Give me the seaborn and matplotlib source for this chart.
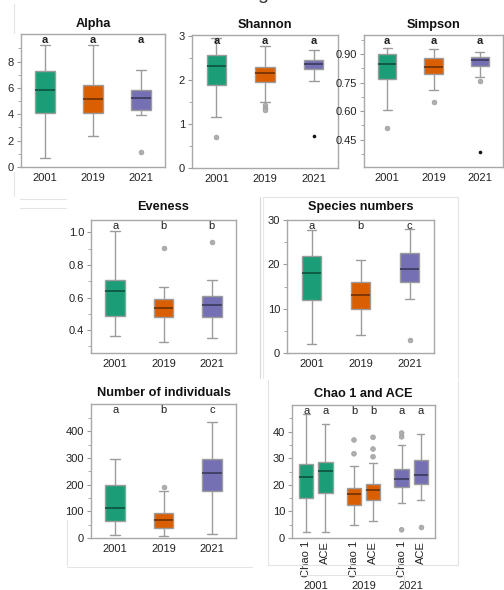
import numpy as np
import pandas as pd
import matplotlib
matplotlib.use("Agg")
import matplotlib.pyplot as plt
import matplotlib.colors as mcolors
import matplotlib.transforms as mtransforms
from matplotlib.lines import Line2D
from matplotlib.ticker import FixedLocator, FormatStrFormatter
import seaborn as sns

sns.set_style("white")
plt.rcParams["font.family"] = ["Liberation Sans", "DejaVu Sans"]

# ---------------- data ----------------
years = ["2001", "2019", "2021"]
colors = ["#1b9e77", "#d95f02", "#7570b3"]

# five-number summaries per year: [low whisker, Q1, median, Q3, high whisker]
alpha_stats = [[0.66, 4.10, 5.87, 7.32, 9.24],
               [2.35, 4.10, 5.19, 6.20, 9.24],
               [3.92, 4.30, 5.24, 5.87, 7.39]]
alpha_out = [[], [], [1.11]]
alpha_dark = [[], [], []]
alpha_letters = ["a", "a", "a"]

shannon_stats = [[1.15, 1.88, 2.31, 2.57, 2.95],
                 [1.50, 1.95, 2.15, 2.30, 2.78],
                 [1.97, 2.25, 2.37, 2.45, 2.68]]
shannon_out = [[0.71], [1.42, 1.37, 1.31], []]
shannon_dark = [[], [], [0.72]]
shannon_letters = ["a", "a", "a"]

simpson_stats = [[0.605, 0.767, 0.846, 0.898, 0.933],
                 [0.710, 0.795, 0.834, 0.877, 0.928],
                 [0.780, 0.839, 0.867, 0.886, 0.912]]
simpson_out = [[0.511], [0.649], [0.759]]
simpson_dark = [[], [], [0.387]]
simpson_letters = ["a", "a", "a"]

eveness_stats = [[0.367, 0.486, 0.638, 0.707, 1.009],
                 [0.328, 0.478, 0.537, 0.591, 0.666],
                 [0.349, 0.482, 0.552, 0.609, 0.705]]
eveness_out = [[], [0.902], [0.939]]
eveness_dark = [[], [], []]
eveness_letters = ["a", "b", "b"]

species_stats = [[2.0, 12.0, 18.0, 21.9, 27.8],
                 [4.0, 10.0, 13.0, 16.0, 20.9],
                 [12.1, 16.0, 19.0, 22.5, 28.0]]
species_out = [[], [], [2.9]]
species_dark = [[], [], []]
species_letters = ["a", "b", "c"]

indiv_stats = [[10, 63, 112, 200, 297],
               [6, 37, 67, 95, 177],
               [14, 177, 245, 295, 435]]
indiv_out = [[], [193], []]
indiv_dark = [[], [], []]
indiv_letters = ["a", "b", "c"]

chao_index = ["Chao 1", "ACE"]
# rows: 2001 Chao 1, 2001 ACE, 2019 Chao 1, 2019 ACE, 2021 Chao 1, 2021 ACE
chao_stats = [[2.3, 15.2, 22.8, 27.8, 46.7],
              [2.3, 16.9, 25.2, 28.6, 43.0],
              [5.0, 12.6, 16.4, 19.0, 27.0],
              [6.3, 14.3, 17.9, 20.4, 28.1],
              [13.3, 19.1, 22.3, 25.9, 35.1],
              [14.2, 20.5, 23.9, 29.2, 39.1]]
chao_out = [[], [], [31.7, 36.9], [30.6, 33.5, 37.9], [38.1, 39.5, 3.1], [4.2]]
chao_letters = ["a", "a", "b", "b", "a", "a"]

# y tick labels per panel
alpha_ticks = [0, 2, 4, 6, 8]
shannon_ticks = [0, 1, 2, 3]
simpson_ticks = [0.45, 0.60, 0.75, 0.90]
eveness_ticks = [0.4, 0.6, 0.8, 1.0]
species_ticks = [0, 10, 20, 30]
indiv_ticks = [0, 100, 200, 300, 400]
chao_ticks = [0, 10, 20, 30, 40]

# ---------------- style ----------------
W, H = 504, 590
fig = plt.figure(figsize=(W / 100, H / 100), dpi=100)

LINE = "#9c9c9c"
SPINE = "#a8a8a8"
TXT = "#222222"
OUTC = "#aeaeae"


def dark(c, f=0.55):
    r, g, b = mcolors.to_rgb(c)
    return (r * f, g * f, b * f)


def add_ax(x0, y0, x1, y1):
    return fig.add_axes([x0 / W, 1 - y1 / H, (x1 - x0) / W, (y1 - y0) / H])


def style_ax(ax, ylim, ticks, fmt=None):
    ax.set_ylim(*ylim)
    step = ticks[1] - ticks[0]
    minor = [t + step / 2 for t in ticks]
    minor = [ticks[0] - step / 2] + minor
    minor = [m for m in minor if ylim[0] <= m <= ylim[1]]
    ax.yaxis.set_major_locator(FixedLocator(ticks))
    ax.yaxis.set_minor_locator(FixedLocator(minor))
    if fmt:
        ax.yaxis.set_major_formatter(FormatStrFormatter(fmt))
    ax.set_xlabel("")
    ax.set_ylabel("")
    for s in ax.spines.values():
        s.set_visible(True)
        s.set_color(SPINE)
        s.set_linewidth(1.0)
    ax.tick_params(axis="y", which="major", length=3, width=0.8, color=LINE,
                   labelsize=8, labelcolor=TXT, pad=2, left=True)
    ax.tick_params(axis="y", which="minor", length=2, width=0.6, color=LINE, left=True)
    ax.tick_params(axis="x", length=0, labelsize=8, labelcolor=TXT, pad=4)


def long_df(stats, groups, key="year"):
    rows = []
    for g, s in zip(groups, stats):
        for v in s:
            rows.append({key: g, "value": v})
    return pd.DataFrame(rows)


def panel(ax, stats, outs, darks, letters, title, ylim, ticks,
          fmt=None, bold_letters=False, title_pad=6):
    df = long_df(stats, years)
    n0 = len(ax.containers)
    sns.boxplot(data=df, x="year", y="value", hue="year", order=years,
                hue_order=years, palette=colors, saturation=1, whis=(0, 100),
                width=0.4, dodge=False, legend=False, showfliers=False, ax=ax,
                linecolor=LINE, linewidth=1.0)
    for c, cont in zip(colors, ax.containers[n0:]):
        for m in cont.medians:
            m.set_color(dark(c))
            m.set_linewidth(1.3)
    orow = [{"year": y, "value": v} for y, vs in zip(years, outs) for v in vs]
    if orow:
        sns.stripplot(data=pd.DataFrame(orow), x="year", y="value", order=years,
                      jitter=False, color=OUTC, size=3.5, linewidth=0.4,
                      edgecolor="#999999", ax=ax, zorder=3)
    drow = [{"year": y, "value": v} for y, vs in zip(years, darks) for v in vs]
    if drow:
        sns.stripplot(data=pd.DataFrame(drow), x="year", y="value", order=years,
                      jitter=False, color="#111111", size=2.6, ax=ax, zorder=3)
    style_ax(ax, ylim, ticks, fmt)
    ax.set_xlim(-0.5, 2.5)
    ax.set_title(title, fontsize=9.2, fontweight="bold", color="#111111", pad=title_pad)
    tr = mtransforms.blended_transform_factory(ax.transData, ax.transAxes)
    for i, l in enumerate(letters):
        ax.text(i, 0.955, l, transform=tr, ha="center", va="center", fontsize=8,
                fontweight="bold" if bold_letters else "normal", color=TXT)


# top row
ax1 = add_ax(21, 34, 165, 167)
panel(ax1, alpha_stats, alpha_out, alpha_dark, alpha_letters, "Alpha",
      (0, 10.1), alpha_ticks, bold_letters=True, title_pad=5)
ax2 = add_ax(192, 35, 338, 168)
panel(ax2, shannon_stats, shannon_out, shannon_dark, shannon_letters, "Shannon",
      (0, 3.02), shannon_ticks, bold_letters=True, title_pad=5)
ax3 = add_ax(364, 35, 503, 167)
panel(ax3, simpson_stats, simpson_out, simpson_dark, simpson_letters, "Simpson",
      (0.307, 1.0), simpson_ticks, fmt="%.2f", bold_letters=True, title_pad=5)

# middle row
ax4 = add_ax(91, 220, 236, 353)
panel(ax4, eveness_stats, eveness_out, eveness_dark, eveness_letters, "Eveness",
      (0.26, 1.076), eveness_ticks, fmt="%.1f", title_pad=7)
ax5 = add_ax(287, 220, 434, 353)
panel(ax5, species_stats, species_out, species_dark, species_letters, "Species numbers",
      (0, 30), species_ticks, title_pad=7)

# bottom row
ax6 = add_ax(91, 404, 236, 538)
panel(ax6, indiv_stats, indiv_out, indiv_dark, indiv_letters, "Number of individuals",
      (0, 503), indiv_ticks, title_pad=6)

# Chao 1 and ACE
ax7 = add_ax(292, 405, 435, 538)
cdf_rows, odf_rows = [], []
k = 0
for y in years:
    for idx in chao_index:
        for v in chao_stats[k]:
            cdf_rows.append({"year": y, "index": idx, "value": v})
        for v in chao_out[k]:
            odf_rows.append({"year": y, "index": idx, "value": v})
        k += 1
cdf = pd.DataFrame(cdf_rows)
odf = pd.DataFrame(odf_rows)
for yi, y in enumerate(years):
    n0 = len(ax7.containers)
    sns.boxplot(data=cdf[cdf["year"] == y], x="year", y="value", hue="index",
                order=years, hue_order=chao_index,
                palette={i: colors[yi] for i in chao_index}, saturation=1,
                whis=(0, 100), width=0.8, gap=0.25, dodge=True, legend=False,
                showfliers=False, ax=ax7, linecolor=LINE, linewidth=1.0)
    for cont in ax7.containers[n0:]:
        for m in cont.medians:
            m.set_color(dark(colors[yi]))
            m.set_linewidth(1.3)
sns.stripplot(data=odf, x="year", y="value", hue="index", order=years,
              hue_order=chao_index, dodge=True, jitter=False,
              palette={i: OUTC for i in chao_index}, size=3.5, linewidth=0.4,
              edgecolor="#999999", legend=False, ax=ax7, zorder=3)
style_ax(ax7, (0, 50.06), chao_ticks)
ax7.set_xlim(-0.5, 2.5)
ax7.set_title("Chao 1 and ACE", fontsize=9.2, fontweight="bold", color="#111111", pad=6)
pos = [i + d for i in range(3) for d in (-0.2, 0.2)]
ax7.set_xticks(pos)
ax7.set_xticklabels(chao_index * 3, rotation=90, fontsize=8, color=TXT)
ax7.tick_params(axis="x", pad=2)
tr7 = mtransforms.blended_transform_factory(ax7.transData, ax7.transAxes)
for p, l in zip(pos, chao_letters):
    ax7.text(p, 0.955, l, transform=tr7, ha="center", va="center", fontsize=8, color=TXT)
trf = mtransforms.blended_transform_factory(ax7.transData, fig.transFigure)
for i, y in enumerate(years):
    ax7.text(i, 1 - 581 / H, y, transform=trf, ha="center", va="top", fontsize=8,
             color=TXT, clip_on=False)

# faint borders from the composite figure
FAINT = "#e4e4e4"


def fline(x0, y0, x1, y1, c=FAINT, lw=0.8):
    fig.add_artist(Line2D([x0 / W, x1 / W], [1 - y0 / H, 1 - y1 / H], color=c, lw=lw))


fline(14, 4, 14, 33)
fline(14, 172, 14, 196)
fline(20, 199, 66, 199)
fline(20, 208, 66, 208)
fline(260, 197, 260, 378, c="#d8d8d8")
fline(263, 197, 263, 378, c="#e8e8e8")
fline(263, 197, 458, 197)
fline(458, 197, 458, 378)
fline(268, 380, 268, 565)
fline(268, 565, 458, 565)
fline(458, 380, 458, 565)
fline(67, 520, 67, 565)
fline(67, 567, 252, 567)
fline(300, 575, 404, 575)
fline(404, 575, 404, 590)

# cropped text at the very top (only its descender is visible)
fig.text(263 / W, 1 + 1 / H, "g", ha="center", va="baseline", fontsize=14, color="#333333")

fig.savefig("out.png", dpi=100)
